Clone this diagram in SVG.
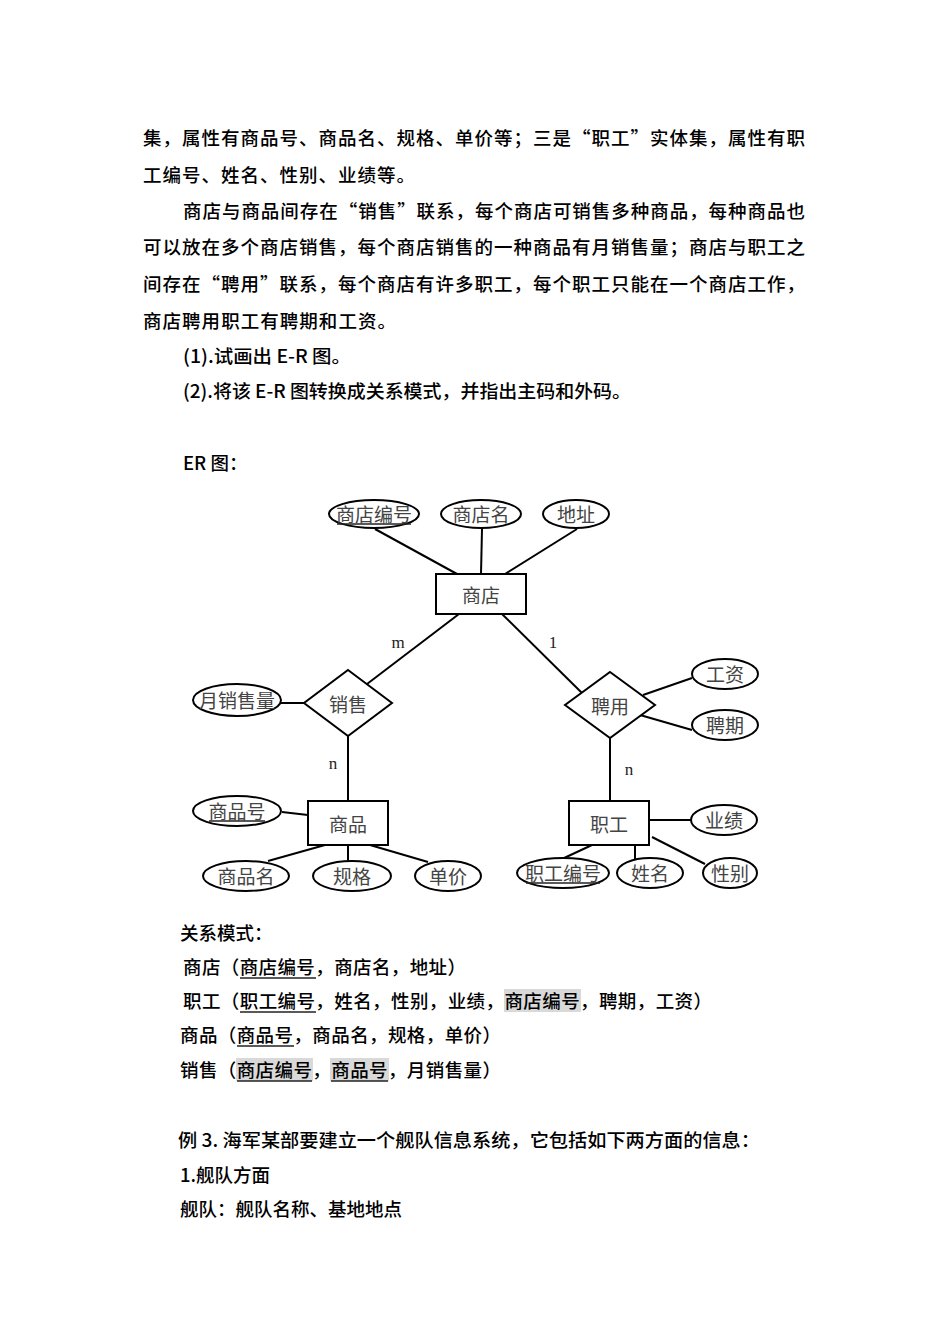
<svg xmlns="http://www.w3.org/2000/svg" width="950" height="1344" viewBox="0 0 950 1344">
<style>
.p{font-family:"Noto Sans CJK SC","Liberation Sans",sans-serif;font-size:18.5px;font-weight:500;fill:#000;dominant-baseline:central}
.r{font-family:"Noto Sans CJK SC","Liberation Sans",sans-serif;font-size:18.5px;font-weight:500;fill:#000;dominant-baseline:central}
.t{font-family:"Noto Sans CJK SC","Liberation Serif",sans-serif;font-size:19px;fill:#444;dominant-baseline:central;text-anchor:middle}
.l{font-family:"Liberation Serif",serif;font-size:17px;fill:#222;dominant-baseline:central;text-anchor:middle}
.s{fill:#fff;stroke:#000;stroke-width:2}
.c{stroke:#000;stroke-width:2;fill:none}
.u{stroke:#222;stroke-width:1.3}
.h{fill:#d9d9d9}
</style>
<rect width="950" height="1344" fill="#fff"/>
<g id="paragraph">
<text class="p" x="143" y="137" textLength="662" lengthAdjust="spacing">集，属性有商品号、商品名、规格、单价等；三是“职工”实体集，属性有职</text>
<text class="p" x="143" y="174" textLength="272" lengthAdjust="spacing">工编号、姓名、性别、业绩等。</text>
<text class="p" x="183" y="210" textLength="622" lengthAdjust="spacing">商店与商品间存在“销售”联系，每个商店可销售多种商品，每种商品也</text>
<text class="p" x="143" y="246" textLength="662" lengthAdjust="spacing">可以放在多个商店销售，每个商店销售的一种商品有月销售量；商店与职工之</text>
<text class="p" x="143" y="283" textLength="662" lengthAdjust="spacing">间存在“聘用”联系，每个商店有许多职工，每个职工只能在一个商店工作，</text>
<text class="p" x="143" y="320" textLength="253" lengthAdjust="spacing">商店聘用职工有聘期和工资。</text>
<text class="p" x="183" y="355" textLength="168" lengthAdjust="spacingAndGlyphs">(1).试画出 E-R 图。</text>
<text class="p" x="183" y="390" textLength="448" lengthAdjust="spacingAndGlyphs">(2).将该 E-R 图转换成关系模式，并指出主码和外码。</text>
<text class="p" x="183" y="462">ER 图：</text>
</g>
<g id="connectors">
<line class="c" x1="375" y1="529" x2="457" y2="574"/>
<line class="c" x1="482" y1="529" x2="481" y2="574"/>
<line class="c" x1="577" y1="529" x2="505" y2="574"/>
<line class="c" x1="459" y1="614" x2="367" y2="684"/>
<line class="c" x1="502" y1="614" x2="582" y2="693"/>
<line class="c" x1="281" y1="703" x2="304" y2="703"/>
<line class="c" x1="348" y1="736" x2="348" y2="801"/>
<line class="c" x1="282" y1="812" x2="308" y2="815"/>
<line class="c" x1="268" y1="861" x2="325" y2="845"/>
<line class="c" x1="348" y1="845" x2="348" y2="861"/>
<line class="c" x1="370" y1="845" x2="428" y2="862"/>
<line class="c" x1="643" y1="695" x2="692" y2="678"/>
<line class="c" x1="640" y1="715" x2="692" y2="730"/>
<line class="c" x1="610" y1="738" x2="610" y2="801"/>
<line class="c" x1="649" y1="820" x2="691" y2="820"/>
<line class="c" x1="562" y1="859" x2="592" y2="845"/>
<line class="c" x1="635" y1="845" x2="635" y2="859"/>
<line class="c" x1="652" y1="837" x2="705" y2="864"/>
<text class="l" x="398" y="642">m</text>
<text class="l" x="553" y="642">1</text>
<text class="l" x="333" y="763">n</text>
<text class="l" x="629" y="769">n</text>
</g>
<g id="shop">
<rect class="s" x="436" y="574" width="90" height="40"/>
<text class="t" x="481" y="594">商店</text>
</g>
<g id="shop-no">
<ellipse class="s" cx="374" cy="514" rx="45" ry="14"/>
<text class="t" x="374" y="513">商店编号</text>
<line class="u" x1="337" y1="524" x2="411" y2="524"/>
</g>
<g id="shop-name">
<ellipse class="s" cx="481" cy="514" rx="40" ry="14"/>
<text class="t" x="481" y="513">商店名</text>
</g>
<g id="address">
<ellipse class="s" cx="576" cy="514" rx="33" ry="14"/>
<text class="t" x="576" y="513">地址</text>
</g>
<g id="sell">
<polygon class="s" points="348,670 392,703 348,736 304,703"/>
<text class="t" x="348" y="703">销售</text>
</g>
<g id="monthly">
<ellipse class="s" cx="237" cy="700" rx="44" ry="16"/>
<text class="t" x="237" y="699">月销售量</text>
</g>
<g id="hire">
<polygon class="s" points="610,672 655,705 610,738 565,705"/>
<text class="t" x="610" y="705">聘用</text>
</g>
<g id="salary">
<ellipse class="s" cx="725" cy="674" rx="33" ry="15"/>
<text class="t" x="725" y="673">工资</text>
</g>
<g id="term">
<ellipse class="s" cx="725" cy="725" rx="33" ry="15"/>
<text class="t" x="725" y="724">聘期</text>
</g>
<g id="goods">
<rect class="s" x="308" y="801" width="80" height="44"/>
<text class="t" x="348" y="823">商品</text>
</g>
<g id="goods-no">
<ellipse class="s" cx="237" cy="811" rx="44" ry="15"/>
<text class="t" x="237" y="810">商品号</text>
<line class="u" x1="209" y1="821" x2="265" y2="821"/>
</g>
<g id="goods-name">
<ellipse class="s" cx="246" cy="876" rx="43" ry="15"/>
<text class="t" x="246" y="875">商品名</text>
</g>
<g id="spec">
<ellipse class="s" cx="352" cy="876" rx="39" ry="15"/>
<text class="t" x="352" y="875">规格</text>
</g>
<g id="price">
<ellipse class="s" cx="448" cy="876" rx="33" ry="15"/>
<text class="t" x="448" y="875">单价</text>
</g>
<g id="staff">
<rect class="s" x="569" y="801" width="80" height="44"/>
<text class="t" x="609" y="823">职工</text>
</g>
<g id="perf">
<ellipse class="s" cx="724" cy="820" rx="33" ry="15"/>
<text class="t" x="724" y="819">业绩</text>
</g>
<g id="staff-no">
<ellipse class="s" cx="563" cy="873" rx="46" ry="15"/>
<text class="t" x="563" y="872">职工编号</text>
<line class="u" x1="526" y1="883" x2="600" y2="883"/>
</g>
<g id="staff-name">
<ellipse class="s" cx="650" cy="873" rx="33" ry="15"/>
<text class="t" x="650" y="872">姓名</text>
</g>
<g id="gender">
<ellipse class="s" cx="730" cy="873" rx="27" ry="15"/>
<text class="t" x="730" y="872">性别</text>
</g>
<g id="relations">
<rect class="h" x="504" y="989" width="77" height="23"/>
<rect class="h" x="236" y="1058" width="77" height="23"/>
<rect class="h" x="330" y="1058" width="59" height="23"/>
<text class="r" x="180" y="932">关系模式：</text>
<text class="r" x="183" y="966" textLength="283" lengthAdjust="spacing">商店（商店编号，商店名，地址）</text>
<text class="r" x="183" y="1000" textLength="529" lengthAdjust="spacing">职工（职工编号，姓名，性别，业绩，商店编号，聘期，工资）</text>
<text class="r" x="180" y="1034" textLength="321" lengthAdjust="spacing">商品（商品号，商品名，规格，单价）</text>
<text class="r" x="180" y="1069" textLength="321" lengthAdjust="spacing">销售（商店编号，商品号，月销售量）</text>
<line class="u" x1="240" y1="978" x2="316" y2="978"/>
<line class="u" x1="240" y1="1012" x2="316" y2="1012"/>
<line class="u" x1="237" y1="1046" x2="294" y2="1046"/>
<line class="u" x1="237" y1="1081" x2="312" y2="1081"/>
<line class="u" x1="331" y1="1081" x2="388" y2="1081"/>
</g>
<g id="example">
<text class="p" x="178" y="1139" textLength="582" lengthAdjust="spacingAndGlyphs">例 3. 海军某部要建立一个舰队信息系统，它包括如下两方面的信息：</text>
<text class="p" x="180" y="1174">1.舰队方面</text>
<text class="p" x="180" y="1208">舰队：舰队名称、基地地点</text>
</g>
</svg>
